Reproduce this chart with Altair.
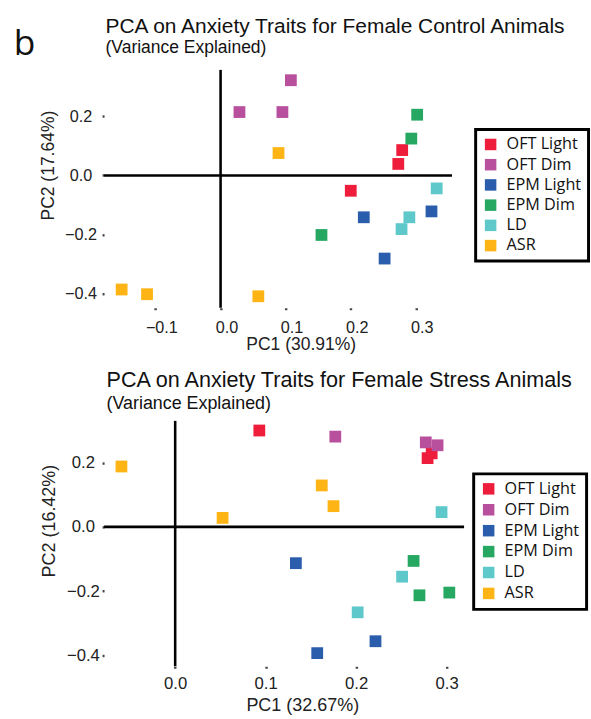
import altair as alt
import pandas as pd

groups = ["OFT Light", "OFT Dim", "EPM Light", "EPM Dim", "LD", "ASR"]
colors = ["#EE1D3C", "#B8509E", "#2A5DAC", "#27A862", "#5EC8CA", "#FDB414"]

# ---- Female Control ----
ctrl_group = ["OFT Light", "OFT Light", "OFT Light",
              "OFT Dim", "OFT Dim", "OFT Dim",
              "EPM Light", "EPM Light", "EPM Light",
              "EPM Dim", "EPM Dim", "EPM Dim",
              "LD", "LD", "LD",
              "ASR", "ASR", "ASR", "ASR"]
ctrl_pc1 = [0.279, 0.273, 0.200,
            0.108, 0.029, 0.095,
            0.220, 0.324, 0.252,
            0.302, 0.293, 0.155,
            0.332, 0.290, 0.278,
            0.089, -0.152, -0.113, 0.058]
ctrl_pc2 = [0.086, 0.039, -0.052,
            0.323, 0.215, 0.215,
            -0.142, -0.122, -0.282,
            0.206, 0.125, -0.202,
            -0.044, -0.142, -0.182,
            0.076, -0.387, -0.403, -0.410]

# ---- Female Stress ----
str_group = ["OFT Light", "OFT Light", "OFT Light",
             "OFT Dim", "OFT Dim", "OFT Dim",
             "EPM Light", "EPM Light", "EPM Light",
             "EPM Dim", "EPM Dim", "EPM Dim",
             "LD", "LD", "LD",
             "ASR", "ASR", "ASR", "ASR"]
str_pc1 = [0.093, 0.2835, 0.279,
           0.177, 0.277, 0.290,
           0.1334, 0.2214, 0.157,
           0.2635, 0.270, 0.303,
           0.2944, 0.2508, 0.2017,
           -0.0594, 0.162, 0.175, 0.0524]
str_pc2 = [0.300, 0.229, 0.214,
           0.281, 0.263, 0.254,
           -0.113, -0.356, -0.393,
           -0.106, -0.213, -0.2045,
           0.046, -0.155, -0.266,
           0.188, 0.129, 0.0645, 0.028]

ctrl_xdom = [-0.179, 0.3555]
ctrl_ydom = [-0.449, 0.358]
str_xdom = [-0.0786, 0.3193]
str_ydom = [-0.434, 0.330]

ctrl_xticks = [-0.1, 0.0, 0.1, 0.2, 0.3]
ctrl_yticks = [-0.4, -0.2, 0.0, 0.2]
str_xticks = [0.0, 0.1, 0.2, 0.3]
str_yticks = [-0.4, -0.2, 0.0, 0.2]

FONT = "Liberation Sans"
LFONT = "Open Sans"


def panel(group, pc1, pc2, xdom, ydom, xticks, yticks, title, subtitle,
          xtitle, ytitle, w, h, p):
    df = pd.DataFrame({"group": group, "pc1": pc1, "pc2": pc2})
    xaxis = alt.Axis(values=xticks, format=".1f", domain=False, grid=False,
                     tickSize=2, tickWidth=2.5, tickColor="#444",
                     labelFont=FONT, labelFontSize=p["tfs"], labelColor="#222",
                     labelPadding=p["xlp"], labelOffset=p["xdx"], labelFlush=False,
                     labelOverlap=False,
                     title=xtitle, titleFont=FONT, titleFontSize=p["afs"],
                     titleFontWeight="normal", titleColor="#222",
                     titleX=p["xtx"], titleY=p["xty"])
    yaxis = alt.Axis(values=yticks, format=".1f", domain=False, grid=False,
                     tickSize=2, tickWidth=2.5, tickColor="#444",
                     labelFont=FONT, labelFontSize=p["tfs"], labelColor="#222",
                     labelPadding=p["ylp"], labelAlign="center",
                     labelBaseline="middle", labelFlush=False, labelOverlap=False,
                     title=ytitle, titleFont=FONT, titleFontSize=p["afs"],
                     titleFontWeight="normal", titleColor="#222",
                     titleX=p["ytx"], titleY=p["yty"])
    xs = alt.Scale(domain=xdom, nice=False, zero=False)
    ys = alt.Scale(domain=ydom, nice=False, zero=False)

    hdf = pd.DataFrame({"pc1": [xdom[0]], "pc1e": [xdom[1]], "pc2": [0.0]})
    vdf = pd.DataFrame({"pc1": [0.0], "pc2": [ydom[0]], "pc2e": [ydom[1]]})

    hrule = alt.Chart(hdf).mark_rule(color="black", strokeWidth=2.6).encode(
        x=alt.X("pc1:Q", scale=xs, axis=xaxis),
        x2="pc1e:Q",
        y=alt.Y("pc2:Q", scale=ys, axis=yaxis),
    )
    vrule = alt.Chart(vdf).mark_rule(color="black", strokeWidth=2.6).encode(
        x=alt.X("pc1:Q", scale=xs, axis=xaxis),
        y=alt.Y("pc2:Q", scale=ys, axis=yaxis),
        y2="pc2e:Q",
    )
    pts = alt.Chart(df).mark_square(size=144, opacity=1, strokeWidth=0).encode(
        x=alt.X("pc1:Q", scale=xs, axis=xaxis),
        y=alt.Y("pc2:Q", scale=ys, axis=yaxis),
        color=alt.Color("group:N",
                        scale=alt.Scale(domain=groups, range=colors),
                        legend=alt.Legend(title=None, orient="none",
                                          legendX=p["lx"], legendY=p["ly"],
                                          symbolType="square", symbolSize=137,
                                          symbolStrokeWidth=0, symbolOpacity=1,
                                          labelFont=LFONT, labelFontSize=16.5,
                                          labelColor="#111", labelOffset=8,
                                          rowPadding=p["rp"], padding=7,
                                          strokeColor="black")),
    )
    ttl = alt.Chart(pd.DataFrame({"t": [title]})).mark_text(
        align="left", baseline="alphabetic", font=FONT, fontSize=p["tis"],
        color="#111").encode(text="t:N", x=alt.value(p["tix"]), y=alt.value(p["tiy"]))
    sub = alt.Chart(pd.DataFrame({"t": [subtitle]})).mark_text(
        align="left", baseline="alphabetic", font=FONT, fontSize=p["sus"],
        color="#111").encode(text="t:N", x=alt.value(p["tix"]), y=alt.value(p["suy"]))
    layers = [hrule, vrule, pts, ttl, sub]
    if p.get("letter"):
        lab = alt.Chart(pd.DataFrame({"t": [p["letter"]]})).mark_text(
            align="left", baseline="alphabetic", font=LFONT, fontSize=36,
            color="#111").encode(text="t:N", x=alt.value(-92), y=alt.value(-15))
        layers.append(lab)
    return alt.layer(*layers).properties(width=w, height=h)


top = panel(ctrl_group, ctrl_pc1, ctrl_pc2, ctrl_xdom, ctrl_ydom,
            ctrl_xticks, ctrl_yticks,
            "PCA on Anxiety Traits for Female Control Animals",
            "(Variance Explained)", "PC1 (30.91%)", "PC2 (17.64%)",
            354.4, 242.3,
            dict(tfs=16.5, afs=17.8, xlp=9.7, xdx=6, xtx=200.3, xty=28.7,
                 ylp=22, ytx=-47.6, yty=97, lx=378.5, ly=60.7, rp=3.6,
                 tis=21.3, sus=17.8, tix=1.5, tiy=-37.7, suy=-17.7, letter="b"))

bottom = panel(str_group, str_pc1, str_pc2, str_xdom, str_ydom,
               str_xticks, str_yticks,
               "PCA on Anxiety Traits for Female Stress Animals",
               "(Variance Explained)", "PC1 (32.67%)", "PC2 (16.42%)",
               366.7, 250,
               dict(tfs=17, afs=18.3, xlp=8, xdx=0, xtx=201.9, xty=30.7,
                    ylp=19.6, ytx=-46, yty=101.6, lx=376.5, ly=54, rp=4.3,
                    tis=22.0, sus=18.2, tix=2.5, tiy=-34, suy=-12))

chart = alt.vconcat(top, bottom, spacing=114.5, bounds="flush").resolve_scale(
    x="independent", y="independent", color="independent"
).resolve_legend(color="independent").properties(
    padding={"left": 13, "top": 8.5, "right": 0, "bottom": 0}
).configure_view(stroke="transparent").configure_legend(strokeWidth=3)

chart.save("out.html", embed_options={"renderer": "svg", "actions": False})
